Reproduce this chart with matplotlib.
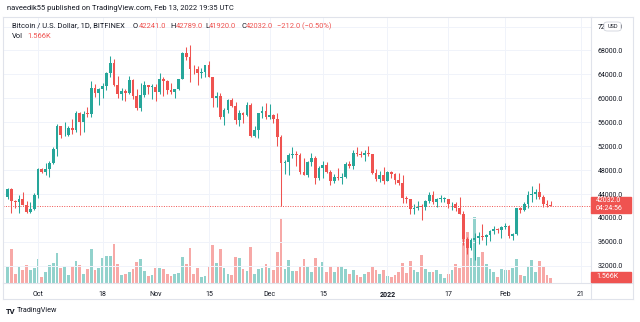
import numpy as np
import pandas as pd
import matplotlib
matplotlib.use("Agg")
from matplotlib import pyplot as plt
import matplotlib.dates as mdates
from matplotlib.patches import Rectangle, FancyBboxPatch
from matplotlib.lines import Line2D

plt.rcParams['font.family'] = ['Roboto', 'DejaVu Sans']

# daily candles Sep 23 2021 .. Feb 13 2022 (BITFINEX BTCUSD)
start = "2021-09-23"
opens = [43580, 44880, 42840, 42700, 43180, 42200, 41030, 41500,
         43800, 48150, 47650, 48200, 49250, 51500, 55330, 53800, 53950, 54960,
         54680, 57480, 56020, 57380, 57350, 61680, 60870, 61520, 62000, 64280,
         65990, 62210, 60690, 61300, 60860, 63080, 60330, 58460, 60590, 62240, 61870,
         61870, 61000, 63220, 62930, 61440, 61010, 61530, 63310, 67550, 66940,
         64950, 64830, 64160, 64400, 65500, 63600, 60100, 60360, 56900, 58100,
         59700, 58700, 56300, 57500, 57150, 58900, 53700, 54700, 57500, 57800,
         56950, 57200, 56500, 53600, 49200, 49400, 50500, 50600, 50500, 47600,
         47150, 49400, 50100, 46700, 48350, 48900, 47650, 46200, 46850, 46700,
         46900, 49000, 48600, 50900, 50700, 50600, 50900, 50700, 47550, 46450, 47150,
         46200, 47700, 47300, 46400, 45800, 43400, 43100, 41550, 41700, 41850,
         41820, 42750, 43900, 42600, 43100, 43150, 43200, 42250, 42400, 41700,
         40700, 36450, 35050, 36300, 36700, 36950, 36850, 37200, 37750, 38150, 37900,
         38500, 38730, 36900, 37330, 41580, 41400, 42400, 43850, 44050, 44400,
         43550, 42400, 42241]
highs = [44980, 45050, 42980, 43900, 44330, 42780, 42600, 44100,
         48400, 48350, 49250, 49500, 51900, 55700, 55350, 56100, 55450, 56500,
         57800, 57650, 57800, 58500, 62900, 62400, 61700, 62600, 64450, 67000,
         66600, 63700, 61700, 61500, 63700, 63300, 61500, 62500, 62950, 62300, 62400,
         62400, 64250, 63500, 63100, 62600, 61600, 63300, 67800, 68500, 69000,
         65600, 65450, 65000, 65550, 66300, 63600, 61000, 60900, 58400, 59900,
         60000, 59400, 58000, 57700, 59400, 59200, 55300, 57400, 58800, 59200,
         59100, 57400, 57600, 53900, 49700, 50900, 51900, 51200, 50800, 50100,
         49500, 50800, 50300, 48700, 49500, 49400, 48000, 47300, 48300, 47500,
         49300, 49600, 51300, 51800, 51200, 51300, 52000, 50700, 48100, 47900, 48500,
         47900, 47900, 47500, 47500, 47100, 43700, 43200, 42300, 42800, 42250,
         43000, 44300, 44500, 43400, 43800, 43500, 43200, 42700, 42600, 43500,
         41100, 36800, 36600, 37500, 37600, 38900, 37300, 38000, 38700, 38300, 38700,
         39200, 38850, 37400, 41700, 41900, 42600, 44500, 45400, 44800, 45800,
         43900, 43000, 42789]
lows = [43100, 40800, 41700, 40800, 42100, 40900, 40800, 41400,
        43300, 47450, 47150, 46900, 49100, 50400, 53400, 53650, 53700, 54100,
        54450, 53900, 54300, 56900, 56800, 60200, 58900, 60000, 61400, 63500,
        62000, 60000, 59700, 59600, 60700, 59900, 58100, 57800, 60200, 60700, 59900,
        59500, 60700, 60400, 60700, 60800, 60100, 61400, 63200, 66400, 62800,
        64100, 62300, 63400, 63600, 63500, 58600, 58500, 56500, 55600, 57500,
        58500, 55700, 55300, 55900, 57000, 53600, 53600, 53300, 56700, 56500,
        56500, 55900, 52000, 42000, 47300, 47100, 50100, 48700, 47400, 47200,
        46900, 48700, 45700, 46400, 46600, 47500, 45500, 45900, 46400, 45600,
        46600, 48400, 48100, 50400, 50200, 49500, 50400, 47400, 46100, 46000, 45700,
        46200, 46700, 45700, 45500, 42500, 42500, 40700, 40600, 41300, 39600,
        41300, 42500, 42300, 41800, 42600, 42600, 41600, 41300, 41200, 40600,
        35500, 34000, 34600, 32900, 35700, 36300, 35500, 36200, 37300, 37400, 36700,
        38100, 36600, 36300, 37100, 40900, 41100, 41700, 42700, 43200, 43200,
        41900, 41800, 41920]
closes = [44880, 42840, 42700, 43180, 42200, 41030, 41500, 43800,
          48150, 47650, 48200, 49250, 51500, 55330, 53800, 53950, 54960, 54680,
          57480, 56020, 57380, 57350, 61680, 60870, 61520, 62000, 64280, 65990,
          62210, 60690, 61300, 60860, 63080, 60330, 58460, 60590, 62240, 61870, 61870,
          61000, 63220, 62930, 61440, 61010, 61530, 63310, 67550, 66940, 64950,
          64830, 64160, 64400, 65500, 63600, 60100, 60360, 56900, 58100, 59700,
          58700, 56300, 57500, 57150, 58900, 53700, 54700, 57500, 57800, 56950,
          57200, 56500, 53600, 49200, 49400, 50500, 50600, 50500, 47600, 47150,
          49400, 50100, 46700, 48350, 48900, 47650, 46200, 46850, 46700, 46900,
          49000, 48600, 50900, 50700, 50600, 50900, 50700, 47550, 46450, 47150, 46200,
          47700, 47300, 46400, 45800, 43400, 43100, 41550, 41700, 41850, 41820,
          42750, 43900, 42600, 43100, 43150, 43200, 42250, 42400, 41700, 40700,
          36450, 35050, 36300, 36700, 36950, 36850, 37200, 37750, 38150, 37900, 38500,
          38730, 36900, 37330, 41580, 41400, 42400, 43850, 44050, 44400, 43550,
          42400, 42244, 42032]
# volume, thousands of BTC
volumes = [5.0, 10.6, 2.8, 5.0, 4.1, 5.6, 4.1, 4.7,
           7.5, 1.9, 3.4, 5.6, 6.3, 9.4, 4.7, 5.3, 2.5, 5.3, 6.9, 5.6, 2.8, 4.4,
           10.6, 4.1, 4.7, 7.8, 8.5, 8.5, 12.2, 5.9, 2.5, 2.8, 3.4, 4.4, 6.6, 7.5,
           3.8, 2.2, 2.5,
           4.7, 4.7, 4.4, 2.8, 2.2, 2.8, 3.1, 8.1, 5.9, 11.0, 2.8, 4.7, 1.9, 2.2,
           5.0, 11.9, 6.3, 10.6, 4.7, 2.8, 2.5, 8.1, 7.8, 4.4, 3.8, 11.3, 2.8, 4.4,
           4.7, 5.9,
           4.7, 4.1, 9.7, 20.3, 4.4, 7.2, 3.8, 3.8, 5.0, 7.5, 5.0, 3.4, 7.8, 5.0,
           6.6, 3.4, 5.3, 3.4, 5.0, 5.3, 4.4, 2.8, 4.1, 2.5, 1.9, 2.8, 3.4, 5.0,
           4.1, 2.8, 4.1,
           2.2, 1.9, 2.5, 3.4, 6.3, 3.1, 6.9, 4.1, 3.4, 8.8, 4.4, 3.4, 3.4, 4.1,
           2.8, 1.6, 2.8, 4.1, 5.9, 4.7, 15.7, 16.0, 7.8, 20.7, 8.1, 9.7, 5.9, 4.4,
           3.4, 1.9, 4.4,
           4.1, 4.1, 4.7, 7.5, 2.5, 2.2, 5.3, 7.2, 3.4, 6.9, 5.0, 2.5, 1.566]

tick_dates = ["2021-10-01", "2021-10-18", "2021-11-01", "2021-11-15", "2021-12-01",
              "2021-12-15", "2022-01-01", "2022-01-17", "2022-02-01", "2022-02-21"]
tick_labels = ["Oct", "18", "Nov", "15", "Dec", "15", "2022", "17", "Feb", "21"]
price_ticks = list(range(32000, 76000, 4000))

UP = '#26a69a'
DOWN = '#ef5350'
UP_VOL = '#92d2cc'
DOWN_VOL = '#f7a9a7'
TXT = '#131722'
GRID = '#f0f3fa'
BORDER = '#e0e3eb'

W, H = 640, 322


def fx(x):
    return x / W


def fy(y):
    return 1 - y / H


fig = plt.figure(figsize=(6.4, 3.22), dpi=100)
fig.patch.set_facecolor('white')

rect = [fx(3), fy(283), fx(591) - fx(3), fy(17) - fy(283)]
axv = fig.add_axes(rect)
ax = fig.add_axes(rect, sharex=axv)
ax.set_zorder(2)
axv.set_zorder(1)
ax.patch.set_visible(False)

dates = pd.date_range(start, periods=len(closes), freq='D')
x = mdates.date2num(dates)
o = np.array(opens, float)
h = np.array(highs, float)
l = np.array(lows, float)
c = np.array(closes, float)
up = c >= o
cols = np.where(up, UP, DOWN)

# volume
axv.bar(x, volumes, width=0.72, color=np.where(up, UP_VOL, DOWN_VOL), linewidth=0)
axv.set_ylim(0, 83.4)
axv.set_yticks([])
axv.tick_params(axis='x', length=0, labelbottom=False)
for s in axv.spines.values():
    s.set_visible(False)

# candles
ax.vlines(x, l, h, colors=cols, linewidth=0.75, zorder=3)
body = np.maximum(np.abs(c - o), 150)
ax.bar(x, body, bottom=np.minimum(o, c), width=0.72, color=cols, linewidth=0, zorder=4)

# last price line
ax.axhline(closes[-1], color=DOWN, linewidth=0.7, linestyle=(0, (1, 1.5)), zorder=2)

x0 = mdates.date2num(pd.Timestamp("2021-10-01"))
ax.set_xlim(x0 - 9.22, x0 + 145.6)
ax.set_ylim(29117, 73600)

ax.set_xticks(mdates.date2num(pd.to_datetime(tick_dates)))
ax.set_xticklabels(tick_labels)
ax.set_yticks(price_ticks)
ax.set_yticklabels([f"{p:.1f}" for p in price_ticks])
ax.yaxis.tick_right()
ax.tick_params(axis='y', length=0, pad=5, labelsize=5, labelcolor=TXT)
ax.tick_params(axis='x', length=0, pad=5.5, labelsize=5, labelcolor=TXT)
for lab in ax.get_xticklabels():
    if lab.get_text() == "2022":
        lab.set_fontweight('bold')
ax.grid(True, color=GRID, linewidth=0.7)
for s in ax.spines.values():
    s.set_color(BORDER)
    s.set_linewidth(0.8)

# outer frame of the price / time scales
fig.add_artist(Line2D([fx(591), fx(633)], [fy(17), fy(17)], color=BORDER, lw=0.8))
fig.add_artist(Line2D([fx(633), fx(633)], [fy(17), fy(299)], color=BORDER, lw=0.8))
fig.add_artist(Line2D([fx(3), fx(633)], [fy(299), fy(299)], color=BORDER, lw=0.8))
fig.add_artist(Line2D([fx(3), fx(3)], [fy(283), fy(299)], color=BORDER, lw=0.8))
fig.add_artist(Line2D([fx(591), fx(633)], [fy(283), fy(283)], color=BORDER, lw=0.8))
fig.add_artist(Line2D([fx(591), fx(591)], [fy(283), fy(299)], color=BORDER, lw=0.8))

# USD tag (covers the middle of the top scale label, as in the original)
fig.add_artist(FancyBboxPatch((fx(604), fy(31)), fx(17), fy(0) - fy(9),
                              boxstyle="round,pad=0,rounding_size=0.006",
                              facecolor='white', edgecolor='#d1d4dc', lw=0.6, zorder=5))
fig.text(fx(612.5), fy(26.5), "USD", fontsize=4, color=TXT, ha='center', va='center', zorder=6)

# last price and volume labels
fig.add_artist(Rectangle((fx(591), fy(213)), fx(40), fy(0) - fy(16), color=DOWN, zorder=5))
fig.text(fx(596), fy(201), f"{closes[-1]:.1f}", fontsize=5, color='white', va='center', zorder=6)
fig.text(fx(596), fy(208.5), "04:24:56", fontsize=5, color='white', va='center', zorder=6)
fig.add_artist(Rectangle((fx(591), fy(282)), fx(40), fy(0) - fy(10), color=DOWN, zorder=5))
fig.text(fx(596), fy(277), f"{volumes[-1]:.3f}K", fontsize=5, color='white', va='center', zorder=6)

# header and legend
fig.text(fx(7), fy(9), "naveedik55 published on TradingView.com, Feb 13, 2022 19:35 UTC",
         fontsize=5.4, color=TXT, va='center')
fig.text(fx(12), fy(26), "Bitcoin / U.S. Dollar, 1D, BITFINEX", fontsize=5.4, color=TXT, va='center')
renderer = fig.canvas.get_renderer()
legend = [("O", f"{opens[-1]:.1f}", 133), ("H", f"{highs[-1]:.1f}", 170),
          ("L", f"{lows[-1]:.1f}", 205), ("C", f"{closes[-1]:.1f}", 241)]
for letter, val, px in legend:
    t = fig.text(fx(px), fy(26), letter, fontsize=5.4, color=TXT, va='center')
    bb = t.get_window_extent(renderer)
    fig.text(bb.x1 / W + fx(0.3), fy(26), val, fontsize=5.4, color=DOWN, va='center')
chg = closes[-1] - closes[-2]
fig.text(fx(277), fy(26), f"\u2212{abs(chg):.1f} (\u2212{abs(chg) / closes[-2] * 100:.2f}%)",
         fontsize=5.4, color=DOWN, va='center')
fig.text(fx(12), fy(37), "Vol", fontsize=5.4, color=TXT, va='center')
fig.text(fx(27), fy(37), f"{volumes[-1]:.3f}K", fontsize=5.4, color=DOWN, va='center')

# footer
fig.text(fx(6), fy(311), "TV", fontsize=5.5, color=TXT, va='center', fontweight='bold')
fig.text(fx(17), fy(311), "TradingView", fontsize=5.2, color=TXT, va='center')

fig.savefig("out.png", dpi=100)
